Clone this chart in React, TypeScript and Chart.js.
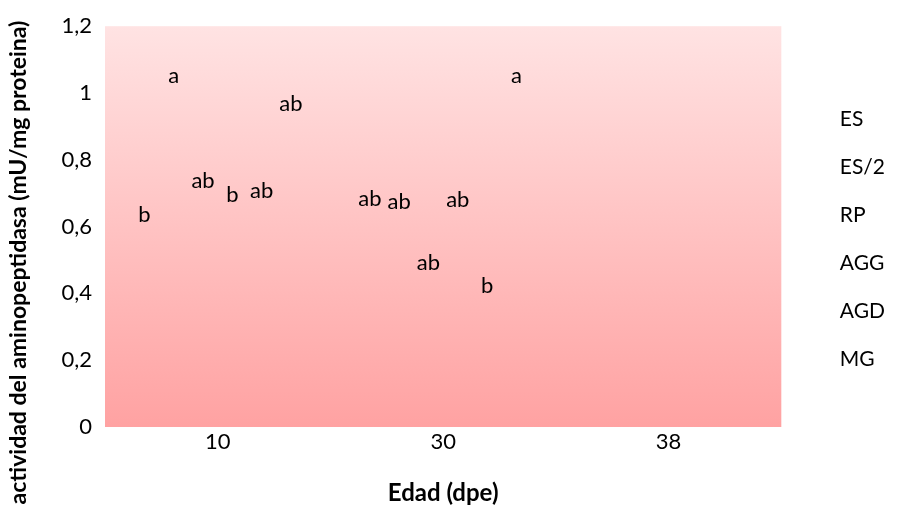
import React, { useEffect, useRef } from "react";
import { Chart, registerables } from "chart.js";

Chart.register(...registerables);

const categories = ["10", "30", "38"];
const seriesNames = ["ES", "ES/2", "RP", "AGG", "AGD", "MG"];
const valuesES = [0.6, 0.646, null];
const valuesES2 = [1.015, 0.637, null];
const valuesRP = [0.7, 0.455, null];
const valuesAGG = [0.66, 0.643, null];
const valuesAGD = [0.67, 0.387, null];
const valuesMG = [0.93, 1.015, null];
const lettersES = ["b", "ab", ""];
const lettersES2 = ["a", "ab", ""];
const lettersRP = ["ab", "ab", ""];
const lettersAGG = ["b", "ab", ""];
const lettersAGD = ["ab", "b", ""];
const lettersMG = ["ab", "a", ""];
const yTicks = [0, 0.2, 0.4, 0.6, 0.8, 1, 1.2];
const yTitle = "actividad del aminopeptidasa (mU/mg proteina)";
const xTitle = "Edad (dpe)";

const FONT = "Lato, 'Open Sans', sans-serif";

export default function App() {
  const ref = useRef<HTMLCanvasElement | null>(null);
  useEffect(() => {
    if (!ref.current) return;
    const allValues = [valuesES, valuesES2, valuesRP, valuesAGG, valuesAGD, valuesMG];
    const allLetters = [lettersES, lettersES2, lettersRP, lettersAGG, lettersAGD, lettersMG];
    const bgPlugin = {
      id: "bgGradient",
      beforeDraw(chart: any) {
        const { ctx, chartArea } = chart;
        const g = ctx.createLinearGradient(0, chartArea.top, 0, chartArea.bottom);
        g.addColorStop(0, "#FFE3E3");
        g.addColorStop(1, "#FFA2A2");
        ctx.save();
        ctx.fillStyle = g;
        ctx.fillRect(chartArea.left, chartArea.top, chartArea.right - chartArea.left, chartArea.bottom - chartArea.top);
        ctx.restore();
      },
    };
    const letterPlugin = {
      id: "letters",
      afterDatasetsDraw(chart: any) {
        const { ctx } = chart;
        ctx.save();
        ctx.font = `22px ${FONT}`;
        ctx.fillStyle = "#000";
        ctx.textAlign = "center";
        ctx.textBaseline = "middle";
        chart.data.datasets.forEach((ds: any, i: number) => {
          const meta = chart.getDatasetMeta(i);
          meta.data.forEach((el: any, j: number) => {
            const v = ds.data[j];
            const t = allLetters[i][j];
            if (v == null || !t) return;
            ctx.fillText(t, el.x, el.y - 12);
          });
        });
        ctx.restore();
      },
    };
    const yTitlePlugin = {
      id: "yTitle",
      afterDraw(chart: any) {
        const { ctx, height } = chart;
        ctx.save();
        ctx.translate(19, height / 2 + 8);
        ctx.rotate(-Math.PI / 2);
        ctx.font = `bold 23px ${FONT}`;
        ctx.fillStyle = "#000";
        ctx.textAlign = "center";
        ctx.textBaseline = "middle";
        ctx.fillText(yTitle, 0, 0);
        ctx.restore();
      },
    };
    const chart = new Chart(ref.current, {
      type: "bar",
      data: {
        labels: categories,
        datasets: seriesNames.map((name, i) => ({
          label: name,
          data: allValues[i],
          backgroundColor: "rgba(0,0,0,0)",
          borderWidth: 0,
          categoryPercentage: 0.78,
          barPercentage: 1,
        })),
      },
      options: {
        responsive: false,
        animation: false,
        layout: { padding: { top: 24, right: 5, bottom: 0, left: 0 } },
        plugins: {
          tooltip: { enabled: false },
          legend: {
            position: "right",
            align: "start",
            title: { display: true, text: " ", font: { size: 10 }, padding: { top: 23, bottom: 23 } },
            labels: {
              boxWidth: 0,
              boxHeight: 0,
              padding: 27,
              color: "#000",
              font: { family: FONT, size: 21 },
            },
          },
        },
        scales: {
          x: {
            grid: { display: false, drawTicks: false },
            border: { display: false },
            ticks: { color: "#000", font: { family: FONT, size: 22 }, padding: 2 },
            title: { display: true, text: xTitle, color: "#000", font: { family: FONT, size: 24, weight: "bold" }, padding: { top: 0, bottom: 1 } },
            afterFit(scale: any) {
              scale.height = 82;
            },
          },
          y: {
            min: 0,
            max: 1.2,
            grid: { display: false, drawTicks: false },
            border: { display: false },
            afterBuildTicks(scale: any) {
              scale.ticks = yTicks.map((v) => ({ value: v }));
            },
            afterFit(scale: any) {
              scale.width = 105;
            },
            ticks: {
              color: "#000",
              font: { family: FONT, size: 22 },
              padding: 13,
              callback: (v: any) => String(Math.round(Number(v) * 10) / 10).replace(".", ","),
            },
          },
          gap: {
            type: "linear",
            position: "right",
            display: true,
            grid: { display: false, drawTicks: false },
            border: { display: false },
            ticks: { display: false },
            afterFit(scale: any) {
              scale.width = 21;
            },
          },
        },
      },
      plugins: [bgPlugin, letterPlugin, yTitlePlugin],
    });
    return () => chart.destroy();
  }, []);
  return (
    <div style={{ position: "absolute", left: 0, top: 0, width: 900, height: 509, background: "#fff" }}>
      <canvas ref={ref} width={900} height={509} />
    </div>
  );
}
